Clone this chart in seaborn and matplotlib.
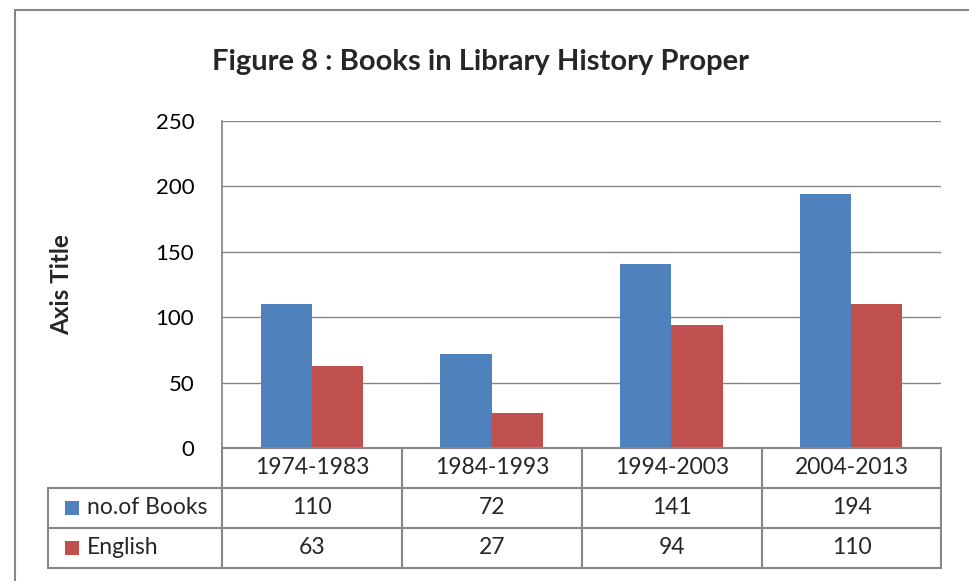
import matplotlib
matplotlib.use("Agg")
import matplotlib.pyplot as plt
import seaborn as sns
import pandas as pd
from matplotlib.lines import Line2D
from matplotlib.patches import Rectangle

periods = ["1974-1983", "1984-1993", "1994-2003", "2004-2013"]
series_names = ["no.of Books", "English"]
books = [110, 72, 141, 194]
english = [63, 27, 94, 110]
colors = ["#4F81BD", "#C0504D"]

W, H = 969, 581
sns.set_theme(style="white")
plt.rcParams["font.family"] = ["Lato", "DejaVu Sans"]

fig = plt.figure(figsize=(W / 100, H / 100), dpi=100)


def fx(x):
    return x / W


def fy(y):
    return 1 - y / H


# plot area in pixels
L, R, T, B = 222, 941, 121, 448
ax = fig.add_axes([fx(L), fy(B), fx(R) - fx(L), fy(T) - fy(B)])

df = pd.DataFrame({
    "period": periods * 2,
    "count": books + english,
    "series": [series_names[0]] * 4 + [series_names[1]] * 4,
})
sns.barplot(data=df, x="period", y="count", hue="series", palette=colors,
            width=0.57, saturation=1, linewidth=0, legend=False, ax=ax)

ax.set_ylim(0, 250)
ax.set_yticks(range(0, 251, 50))
ax.set_xlim(-0.5, 3.5)
ax.set_xticks([])
ax.set_xlabel("")
ax.set_ylabel("")
ax.yaxis.grid(True, color="#868686", linewidth=1)
ax.set_axisbelow(True)
for side in ["top", "right", "bottom"]:
    ax.spines[side].set_visible(False)
ax.spines["left"].set_color("#868686")
ax.tick_params(axis="y", length=0, pad=20, labelsize=16, labelcolor="black")

# outer chart frame
grey = "#868686"
fig.add_artist(Line2D([fx(15), fx(969)], [fy(10), fy(10)], color=grey, lw=1.5))
fig.add_artist(Line2D([fx(15), fx(15)], [fy(10), fy(581)], color=grey, lw=1.5))

fig.text(fx(481), fy(62), "Figure 8 : Books in Library History Proper",
         ha="center", va="center", fontsize=21, fontweight="bold")
fig.text(fx(62), fy(285), "Axis Title", ha="center", va="center",
         rotation=90, fontsize=17.5, fontweight="bold")

# data table
cols = [222, 402, 582, 762, 941]
rows = [448, 488, 528, 568]
for x in cols:
    fig.add_artist(Line2D([fx(x), fx(x)], [fy(448), fy(568)], color=grey, lw=1.5))
fig.add_artist(Line2D([fx(48), fx(48)], [fy(488), fy(568)], color=grey, lw=1.5))
fig.add_artist(Line2D([fx(222), fx(941)], [fy(448), fy(448)], color=grey, lw=1.5))
for y in rows[1:]:
    fig.add_artist(Line2D([fx(48), fx(941)], [fy(y), fy(y)], color=grey, lw=1.5))

for i, p in enumerate(periods):
    cx = (cols[i] + cols[i + 1]) / 2
    fig.text(fx(cx), fy(468), p, ha="center", va="center", fontsize=16.5)
    fig.text(fx(cx), fy(508), str(books[i]), ha="center", va="center", fontsize=16.5)
    fig.text(fx(cx), fy(548), str(english[i]), ha="center", va="center", fontsize=16.5)

for j, (name, c) in enumerate(zip(series_names, colors)):
    cy = 508 + 40 * j
    fig.add_artist(Rectangle((fx(65), fy(cy + 7)), fx(14), fy(0) - fy(14),
                             facecolor=c, edgecolor="none"))
    fig.text(fx(87), fy(cy), name, ha="left", va="center", fontsize=16.5)

fig.savefig("out.png", dpi=100)
